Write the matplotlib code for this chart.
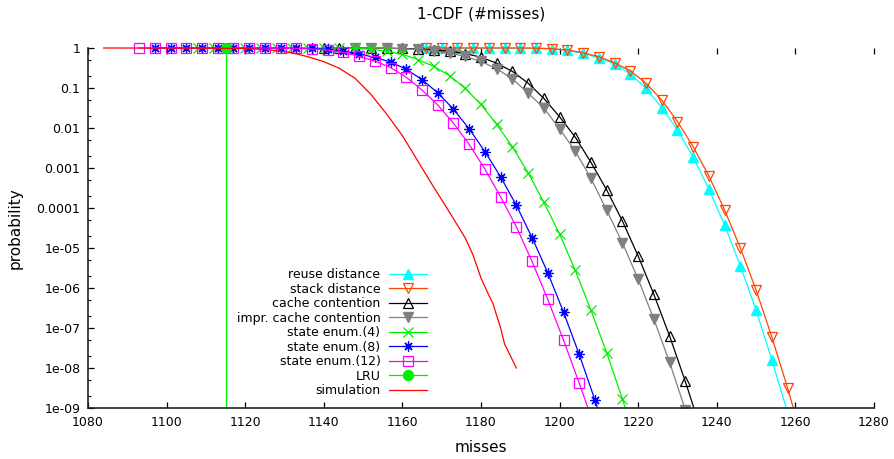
import matplotlib
matplotlib.use("Agg")
import matplotlib.pyplot as plt
from matplotlib.ticker import FixedLocator, FixedFormatter, LogLocator, NullFormatter
from matplotlib.transforms import Bbox, TransformedBbox

# reuse distance / stack distance (same miss grid)
reuse_x = [1166, 1170, 1174, 1178, 1182, 1186, 1190, 1194, 1198, 1202, 1206, 1210,
           1214, 1218, 1222, 1226, 1230, 1234, 1238, 1242, 1246, 1250, 1254, 1258]
reuse_p = [1.0, 1.0, 1.0, 1.0, 1.0, 0.999, 0.995, 0.989, 0.966, 0.871, 0.741, 0.562,
           0.407, 0.224, 0.0977, 0.0324, 0.0089, 0.00186, 2.95e-4, 3.7e-5, 3.6e-6,
           2.8e-7, 1.6e-8, 7.9e-10]

stack_x = [1166, 1170, 1174, 1178, 1182, 1186, 1190, 1194, 1198, 1202, 1206, 1210,
           1214, 1218, 1222, 1226, 1230, 1234, 1238, 1242, 1246, 1250, 1254, 1258, 1262]
stack_p = [1.0, 1.0, 1.0, 1.0, 1.0, 1.0, 1.0, 0.989, 0.955, 0.891, 0.759, 0.603,
           0.427, 0.269, 0.132, 0.0501, 0.0145, 0.00339, 6.3e-4, 8.9e-5, 1.0e-5,
           8.9e-7, 6.0e-8, 3.2e-9, 1.4e-10]

# cache contention models
cc_x = [1140, 1144, 1148, 1152, 1156, 1160, 1164, 1168, 1172, 1176, 1180, 1184, 1188,
        1192, 1196, 1200, 1204, 1208, 1212, 1216, 1220, 1224, 1228, 1232, 1236]
cc_p = [1.0, 1.0, 1.0, 0.995, 0.989, 0.973, 0.944, 0.902, 0.832, 0.724, 0.589, 0.417,
        0.26, 0.132, 0.055, 0.0191, 0.00589, 0.00138, 2.82e-4, 4.7e-5, 6.3e-6, 6.9e-7,
        6.3e-8, 4.6e-9, 2.8e-10]

icc_x = [1148, 1152, 1156, 1160, 1164, 1168, 1172, 1176, 1180, 1184, 1188, 1192,
         1196, 1200, 1204, 1208, 1212, 1216, 1220, 1224, 1228, 1232, 1236]
icc_p = [1.0, 1.0, 0.986, 0.966, 0.923, 0.851, 0.75, 0.617, 0.462, 0.302, 0.17, 0.0741,
         0.0316, 0.00955, 0.00263, 5.5e-4, 8.7e-5, 1.35e-5, 1.66e-6, 1.66e-7, 1.38e-8,
         9.0e-10, 6.3e-11]

# state enumeration with 4, 8 and 12 states
se4_x = [1108, 1112, 1116, 1120, 1124, 1128, 1132, 1136, 1140, 1144, 1148, 1152, 1156,
         1160, 1164, 1168, 1172, 1176, 1180, 1184, 1188, 1192, 1196, 1200, 1204, 1208,
         1212, 1216, 1220]
se4_p = [1.0, 1.0, 1.0, 1.0, 1.0, 1.0, 1.0, 1.0, 1.0, 1.0, 0.977, 0.933, 0.832, 0.692,
         0.513, 0.347, 0.204, 0.0977, 0.0389, 0.0123, 0.00339, 7.6e-4, 1.38e-4, 2.24e-5,
         2.75e-6, 2.75e-7, 2.4e-8, 1.66e-9, 1.0e-10]

se8_x = [1097, 1101, 1105, 1109, 1113, 1117, 1121, 1125, 1129, 1133, 1137, 1141, 1145,
         1149, 1153, 1157, 1161, 1165, 1169, 1173, 1177, 1181, 1185, 1189, 1193, 1197,
         1201, 1205, 1209, 1213]
se8_p = [1.0, 1.0, 1.0, 1.0, 1.0, 1.0, 1.0, 1.0, 1.0, 0.989, 0.973, 0.933, 0.841, 0.708,
         0.582, 0.447, 0.295, 0.162, 0.0759, 0.0295, 0.00955, 0.00257, 6.0e-4, 1.17e-4,
         1.82e-5, 2.4e-6, 2.5e-7, 2.19e-8, 1.58e-9, 1.0e-10]

se12_x = [1093, 1097, 1101, 1105, 1109, 1113, 1117, 1121, 1125, 1129, 1133, 1137, 1141,
          1145, 1149, 1153, 1157, 1161, 1165, 1169, 1173, 1177, 1181, 1185, 1189, 1193,
          1197, 1201, 1205, 1209]
se12_p = [1.0, 1.0, 1.0, 1.0, 1.0, 1.0, 1.0, 1.0, 1.0, 1.0, 0.977, 0.944, 0.891, 0.776,
          0.617, 0.473, 0.324, 0.186, 0.0891, 0.0376, 0.0132, 0.00389, 9.4e-4, 1.9e-4,
          3.4e-5, 4.6e-6, 5.2e-7, 5.0e-8, 4.2e-9, 3.2e-10]

# LRU: all mass at a single miss count
lru_x = [1115, 1115]
lru_p = [1.0, 1e-12]

# simulation
sim_x = [1084, 1100, 1110, 1116, 1120, 1124, 1128, 1132, 1136, 1140, 1144, 1148, 1152,
         1156, 1160, 1164, 1168, 1172, 1176, 1178, 1180, 1182, 1183, 1185, 1186, 1189]
sim_p = [1.0, 0.998, 0.993, 0.982, 0.966, 0.933, 0.861, 0.759, 0.603, 0.457, 0.309,
         0.174, 0.0692, 0.0224, 0.00646, 0.00145, 3.3e-4, 7.8e-5, 1.78e-5, 6.6e-6,
         1.78e-6, 6.6e-7, 4.2e-7, 1.0e-7, 4.0e-8, 1.0e-8]

x_ticks = [1080, 1100, 1120, 1140, 1160, 1180, 1200, 1220, 1240, 1260, 1280]
y_ticks = [1, 0.1, 0.01, 0.001, 1e-4, 1e-5, 1e-6, 1e-7, 1e-8, 1e-9]
y_tick_labels = ["1", "0.1", "0.01", "0.001", "0.0001", "1e-05", "1e-06", "1e-07",
                 "1e-08", "1e-09"]

plt.rcParams["font.family"] = "DejaVu Sans"

fig = plt.figure(figsize=(8.95, 4.59), dpi=100)
ax = fig.add_axes([0.0983, 0.1111, 0.8782, 0.7843])

lw = 0.9
ms = 6.6
lines = []
lines += ax.plot(reuse_x, reuse_p, color="#00ffff", lw=lw, marker="^", ms=ms,
                 label="reuse distance")
lines += ax.plot(stack_x, stack_p, color="#ff4500", lw=lw, marker="v", ms=ms, mfc="none",
                 mew=0.9, label="stack distance")
lines += ax.plot(cc_x, cc_p, color="black", lw=lw, marker="^", ms=ms, mfc="none", mew=0.9,
                 label="cache contention")
lines += ax.plot(icc_x, icc_p, color="#808080", lw=lw, marker="v", ms=ms,
                 label="impr. cache contention")
lines += ax.plot(se4_x, se4_p, color="#00ee00", lw=lw, marker="x", ms=ms, mew=0.9,
                 label="state enum.(4)")
lines += ax.plot(se8_x, se8_p, color="#0000ff", lw=lw, marker=(8, 2, 0), ms=ms + 0.6,
                 mew=0.9, label="state enum.(8)")
lines += ax.plot(se12_x, se12_p, color="#ff00ff", lw=lw, marker="s", ms=ms, mfc="none",
                 mew=0.9, label="state enum.(12)")
lines += ax.plot(lru_x, lru_p, color="#00ee00", lw=lw, marker="o", ms=ms + 0.6,
                 markevery=[0], label="LRU")
lines += ax.plot(sim_x, sim_p, color="#ff0000", lw=lw, label="simulation")

ax.set_yscale("log")
ax.set_xlim(1080, 1280)
ax.set_ylim(1e-9, 1)

# let markers sitting at probability 1 stick out above the frame
top_clip = TransformedBbox(Bbox([[-0.02, 0.0], [1.02, 1.06]]), ax.transAxes)
for ln in lines:
    ln.set_clip_box(top_clip)

ax.set_xticks(x_ticks)
ax.yaxis.set_major_locator(FixedLocator(y_ticks))
ax.yaxis.set_major_formatter(FixedFormatter(y_tick_labels))
ax.yaxis.set_minor_locator(LogLocator(base=10, subs=(2.0, 5.0), numticks=30))
ax.yaxis.set_minor_formatter(NullFormatter())

ax.tick_params(axis="both", which="major", direction="in", length=4.5, width=0.9,
               labelsize=9, colors="black")
ax.tick_params(axis="x", top=True, pad=6)
ax.tick_params(axis="y", which="major", pad=5.5, right=False)
ax.tick_params(axis="y", which="minor", direction="in", length=2.5, width=0.8,
               right=False)

for side in ("top", "right"):
    ax.spines[side].set_visible(False)
for side in ("left", "bottom"):
    ax.spines[side].set_linewidth(1.2)
    ax.spines[side].set_color("#222222")

ax.set_title("1-CDF (#misses)", fontsize=11, pad=21)
ax.set_xlabel("misses", fontsize=11, labelpad=8)
ax.set_ylabel("probability", fontsize=11, labelpad=10)

ax.legend(loc="lower right", bbox_to_anchor=(0.431, 0.03), markerfirst=False,
          frameon=False, fontsize=9, handlelength=3.0, handletextpad=0.7,
          labelspacing=0.12, borderaxespad=0, borderpad=0)

fig.savefig("out.png", dpi=100)
